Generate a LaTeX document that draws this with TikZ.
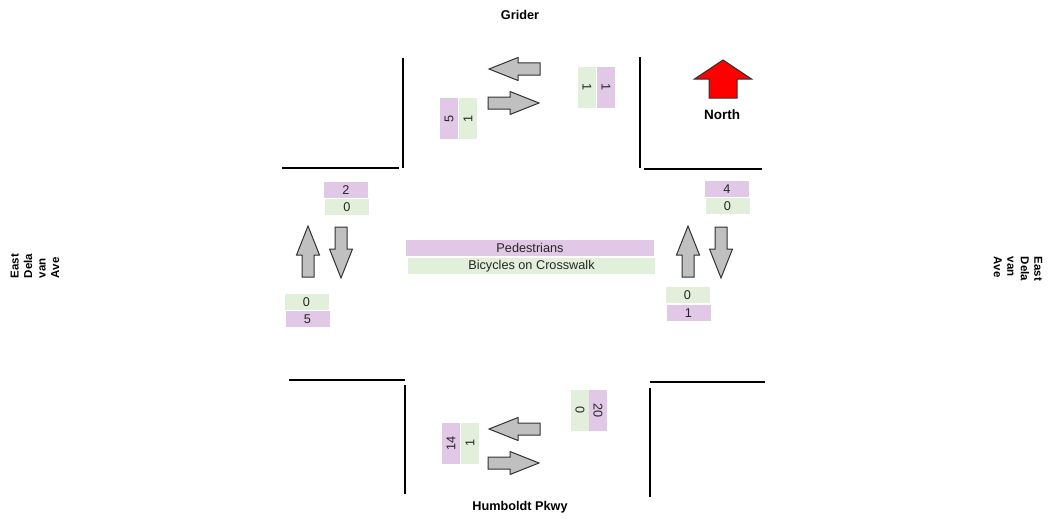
\documentclass[tikz,border=0pt]{standalone}
\usepackage{fontspec}
\setmainfont{Liberation Sans}
\definecolor{ped}{RGB}{225,200,230}
\definecolor{bik}{RGB}{226,239,218}
\definecolor{arrfill}{RGB}{192,192,192}
\definecolor{arredge}{RGB}{50,50,50}
\begin{document}
\begin{tikzpicture}[x=1pt,y=-1pt,
  curb/.style={line width=2.9pt,black},
  lbl/.style={inner sep=0pt,font=\fontsize{12.7}{14}\selectfont,text=black!85},
  pbox/.style={lbl,fill=ped},
  gbox/.style={lbl,fill=bik},
  hbox/.style={minimum width=44pt,minimum height=16.5pt},
  vbox/.style={minimum width=41pt,minimum height=18pt},
  street/.style={font=\fontsize{12.7}{14}\selectfont\bfseries,inner sep=0pt},
  sidestreet/.style={font=\fontsize{11.5}{13.5}\selectfont\bfseries,inner sep=0pt,align=left},
  garrow/.style={fill=arrfill,draw=arredge,line width=1pt,line join=miter},
  blockarrow/.pic={\draw[garrow] (0,-6) -- (22,-6) -- (22,-11.5) -- (51,0) -- (22,11.5) -- (22,6) -- (0,6) -- cycle;}
]
\useasboundingbox (0,0) rectangle (1049,519);

% curbs
\draw[curb] (403,58) -- (403,168);
\draw[curb] (282,168) -- (399,168);
\draw[curb] (640,57) -- (640,168);
\draw[curb] (644,169) -- (762,169);
\draw[curb] (289,380) -- (405,380);
\draw[curb] (405,385) -- (405,494);
\draw[curb] (650,382) -- (765,382);
\draw[curb] (650,388) -- (650,497);

% gray arrows
\pic[rotate=180] at (540,69) {blockarrow};
\pic at (488,103) {blockarrow};
\pic[rotate=180] at (540,429) {blockarrow};
\pic at (488,463) {blockarrow};
\pic[rotate=90] at (308,277) {blockarrow};
\pic[rotate=-90] at (341,227) {blockarrow};
\pic[rotate=90] at (688,277) {blockarrow};
\pic[rotate=-90] at (721,227) {blockarrow};

% north arrow
\draw[fill=red,draw=arredge,line width=1pt] (723,60) -- (751.5,79) -- (737,79) -- (737,98) -- (709,98) -- (709,79) -- (694.5,79) -- cycle;
\node[street,font=\fontsize{13.5}{15}\selectfont\bfseries] (north) at (722,115) {North};

% street names
\node[street] (grider) at (520,15) {Grider};
\node[street] (humboldt) at (520,507) {Humboldt Pkwy};
\node[sidestreet,rotate=90] (westname) at (35,266) {East\\Dela\\van\\Ave};
\node[sidestreet,rotate=-90] (eastname) at (1018,269) {East\\Dela\\van\\Ave};

% legend
\node[pbox,minimum width=248pt,minimum height=16.5pt] (legped) at (530,248) {Pedestrians};
\node[gbox,minimum width=247pt,minimum height=16.5pt] (legbik) at (531.5,266) {Bicycles on Crosswalk};

% west side counts
\node[pbox,hbox] (wn1) at (346,190) {2};
\node[gbox,hbox] (wn2) at (347,207) {0};
\node[gbox,hbox] (ws1) at (306.5,302) {0};
\node[pbox,hbox] (ws2) at (307.5,319) {5};

% east side counts
\node[pbox,hbox] (en1) at (727,189) {4};
\node[gbox,hbox] (en2) at (727.5,206) {0};
\node[gbox,hbox] (es1) at (687.5,295) {0};
\node[pbox,hbox] (es2) at (688.5,313) {1};

% north side counts
\node[pbox,vbox,rotate=90] (nw1) at (449,118.5) {5};
\node[gbox,vbox,rotate=90] (nw2) at (468,118.5) {1};
\node[gbox,vbox,rotate=-90] (ne1) at (587,87.5) {1};
\node[pbox,vbox,rotate=-90] (ne2) at (606,87.5) {1};

% south side counts
\node[pbox,vbox,rotate=90] (sw1) at (451,443) {14};
\node[gbox,vbox,rotate=90] (sw2) at (470,443) {1};
\node[gbox,vbox,rotate=-90] (se1) at (580,410.5) {0};
\node[pbox,vbox,rotate=-90] (se2) at (598,410.5) {20};
\end{tikzpicture}
\end{document}
